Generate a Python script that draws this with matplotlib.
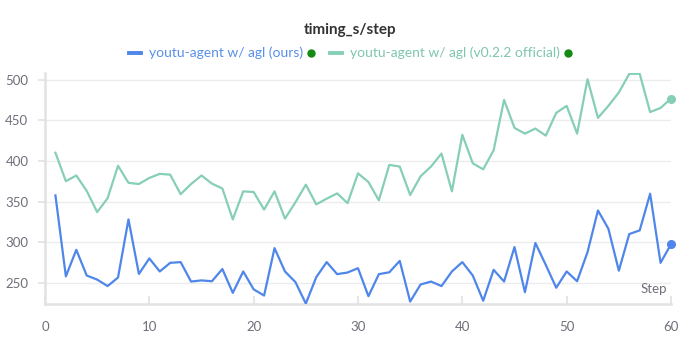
import matplotlib
matplotlib.use('Agg')
import matplotlib.pyplot as plt
from matplotlib.lines import Line2D

steps = list(range(1, 61))

ours = [357.5, 258, 290.6, 259, 254, 246, 256.6, 328, 261, 280,
        264, 274.6, 275.5, 251.6, 253, 252, 267, 237.7, 264, 242,
        234.4, 292.7, 264, 251, 224.5, 257, 275.5, 260.7, 262.7, 268,
        233.6, 260.7, 263, 277, 227, 248, 251.6, 246, 264, 275.5,
        259, 228, 266, 251.6, 294, 238.5, 299, 272, 244, 264,
        252, 287.8, 339, 316.5, 265, 310, 314.5, 359.6, 274.6, 297.6]

official = [410, 375, 382, 363, 337, 354, 394, 373, 371.5, 379,
            384, 383, 359, 371.5, 382, 372, 366, 328, 362.5, 361.7,
            340, 362.5, 329, 349, 370.7, 346.5, 353.5, 360, 348, 384.6,
            374, 351.4, 395, 393, 358, 381, 393, 409, 362.5, 432,
            397, 389.6, 413, 475, 440.5, 433.5, 439.7, 431, 459, 467.6,
            433.5, 500.4, 452.8, 467.6, 484, 507, 507, 460, 465, 476.6]

labels = ['youtu-agent w/ agl (ours)', 'youtu-agent w/ agl (v0.2.2 official)']
line_colors = ['#4f86ea', '#86cfb6']
text_colors = ['#5a8fe8', '#7fc6ad']
dot_color = '#138a13'
yticks = [250, 300, 350, 400, 450, 500]
xticks = [0, 10, 20, 30, 40, 50, 60]

plt.rcParams['font.family'] = ['Lato', 'DejaVu Sans']

W, H = 683, 347
fig = plt.figure(figsize=(W / 100, H / 100), dpi=100)
ax = fig.add_axes([45 / W, 1 - 304 / H, (671 - 45) / W, (304 - 73) / H])

grid_c = '#ececec'
axis_c = '#e2e2e2'
tick_lbl = '#6f6f7a'

for yv, col in [(ours, line_colors[0]), (official, line_colors[1])]:
    ax.plot(steps, yv, color=col, lw=1.6, zorder=3)
    ax.plot(steps[-1], yv[-1], 'o', color=col, ms=5.5, zorder=4, clip_on=False)

ax.set_xlim(0, 60)
ax.set_ylim(224, 508)
ax.set_yticks(yticks)
ax.set_xticks(xticks)
ax.grid(axis='y', color=grid_c, lw=1)
ax.set_axisbelow(True)

for s in ['top', 'right']:
    ax.spines[s].set_visible(False)
for s in ['left', 'bottom']:
    ax.spines[s].set_color(axis_c)
    ax.spines[s].set_linewidth(1.8)

ax.tick_params(axis='y', direction='out', length=5, width=1.2, color=axis_c,
               labelcolor=tick_lbl, labelsize=9.5, pad=7)
ax.tick_params(axis='x', direction='in', length=6, width=1.2, color=axis_c,
               labelcolor=tick_lbl, labelsize=9.5, pad=12)

ax.text(0.993, 0.04, 'Step', transform=ax.transAxes, ha='right', va='bottom',
        color=tick_lbl, fontsize=9.5)

# title
fig.text(350 / W, 1 - 30 / H, 'timing_s/step', ha='center', va='center',
         fontsize=11, fontweight='bold', color='#333333')

# legend built piece by piece
renderer = fig.canvas.get_renderer()
leg_y = 1 - 53 / H
pieces = []
for lbl, tc in zip(labels, text_colors):
    t = fig.text(0, leg_y, lbl, ha='left', va='center', fontsize=10, color=tc)
    w = t.get_window_extent(renderer=renderer).width
    pieces.append((t, w))

handle_w, gap1, gap2, dot_w, gap3 = 12, 8, 5, 6, 16
total = 0
for i, (t, w) in enumerate(pieces):
    total += handle_w + gap1 + w + gap2 + dot_w
    if i < len(pieces) - 1:
        total += gap3
x = 350 - total / 2
for (t, w), lc in zip(pieces, line_colors):
    fig.add_artist(Line2D([x / W, (x + handle_w) / W], [leg_y, leg_y],
                          color=lc, lw=2.8, transform=fig.transFigure))
    x += handle_w + gap1
    t.set_x(x / W)
    x += w + gap2
    fig.add_artist(Line2D([(x + dot_w / 2) / W], [leg_y], marker='o', ms=5,
                          color=dot_color, transform=fig.transFigure))
    x += dot_w + gap3

fig.savefig('out.png', dpi=100)
